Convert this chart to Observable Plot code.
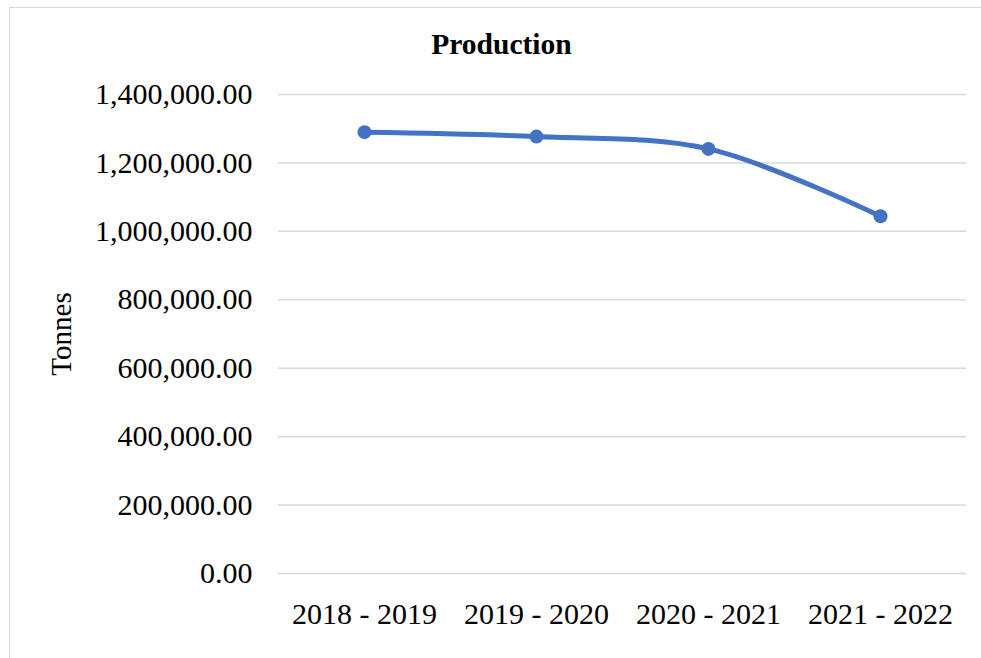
<!DOCTYPE html>
<html><head><meta charset="utf-8">
<script src="https://cdn.jsdelivr.net/npm/d3@7"></script>
<script src="https://cdn.jsdelivr.net/npm/@observablehq/plot@0.6"></script>
<style>
body{margin:0;background:#fff;}
#wrap{position:relative;width:981px;height:658px;overflow:hidden;font-family:"Liberation Serif","Times New Roman",serif;background:#fff;}
#border{position:absolute;left:9px;top:7px;width:1100px;height:800px;border:1.5px solid #d9d9d9;}
#title{position:absolute;left:0;top:30px;width:1003px;text-align:center;font-weight:bold;font-size:29.5px;line-height:29px;color:#000;}
#wrap svg{position:absolute;left:0;top:0;}
</style></head><body>
<div id="wrap"><div id="border"></div><div id="title">Production</div></div>
<script>
const periods = ["2018 - 2019", "2019 - 2020", "2020 - 2021", "2021 - 2022"];
const production = [1290000, 1277000, 1241000, 1044000];
const yTicks = [0, 200000, 400000, 600000, 800000, 1000000, 1200000, 1400000];
const yLabel = "Tonnes";

const data = periods.map((p, i) => ({period: p, tonnes: production[i]}));

const chart = Plot.plot({
  width: 981,
  height: 658,
  marginLeft: 278,
  marginRight: 15,
  marginTop: 94,
  marginBottom: 85,
  style: {fontFamily: '"Liberation Serif","Times New Roman",serif', fontSize: "30px", color: "#000", background: "transparent", overflow: "visible"},
  x: {type: "point", domain: periods, padding: 0.5},
  y: {domain: [0, 1400000]},
  marks: [
    Plot.gridY(yTicks, {stroke: "#d9d9d9", strokeOpacity: 1, strokeWidth: 1.5}),
    Plot.axisY(yTicks, {tickSize: 0, tickPadding: 26, tickFormat: d3.format(",.2f"), label: null}),
    Plot.axisY([], {tickSize: 0, label: yLabel, labelAnchor: "center", labelOffset: 228, labelArrow: "none", fontSize: 29}),
    Plot.axisX({tickSize: 0, tickPadding: 29, label: null}),
    Plot.line(data, {x: "period", y: "tonnes", stroke: "#4472C4", strokeWidth: 5, curve: "catmull-rom"}),
    Plot.dot(data, {x: "period", y: "tonnes", r: 7, fill: "#4472C4"})
  ]
});
document.getElementById("wrap").appendChild(chart);
</script>
</body></html>
